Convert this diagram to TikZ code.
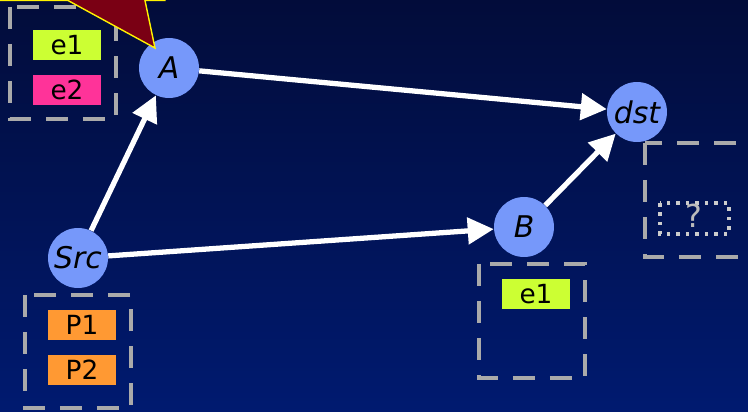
\documentclass[tikz,border=0pt]{standalone}
\usepackage{fontspec}
\setmainfont{DejaVu Sans}
\usepackage{tikz}
\usetikzlibrary{arrows.meta}

\definecolor{bgtop}{RGB}{2,12,58}
\definecolor{bgbot}{RGB}{0,26,112}
\definecolor{router}{RGB}{118,152,250}
\definecolor{lime}{RGB}{204,255,51}
\definecolor{pink}{RGB}{255,51,153}
\definecolor{orng}{RGB}{255,153,51}
\definecolor{dashgray}{RGB}{170,170,170}
\definecolor{starred}{RGB}{122,0,20}

\begin{document}
\begin{tikzpicture}[x=0.02cm,y=-0.02cm,
  router/.style={circle,fill=router,minimum size=1.2cm,inner sep=0pt,font=\fontsize{17}{17}\selectfont\itshape},
  tag/.style={fill=#1,minimum width=1.36cm,minimum height=0.62cm,inner sep=0pt,font=\fontsize{15}{15}\selectfont},
  link/.style={draw=white,line width=3pt,-{Triangle[length=0.52cm,width=0.52cm]}},
  cache/.style={draw=dashgray,line width=2.3pt,dash pattern=on 0.44cm off 0.3cm}]
\useasboundingbox (0,0) rectangle (748,412);
\clip (0,0) rectangle (748,412);
\shade[top color=bgtop,bottom color=bgbot] (0,0) rectangle (748,412);

% routers
\node[router] (A) at (169,68) {A};
\node[router] (dst) at (637,112) {dst};
\node[router] (B) at (524,227) {B};
\node[router] (Src) at (78,258) {Src};

% links
\draw[link] (Src) -- (A); \draw[link] (A) -- (dst);
\draw[link] (Src) -- (B); \draw[link] (B) -- (dst);

% caches
\draw[cache] (10,7) rectangle (116,119);
\node[tag=lime] (eA1) at (67,45) {e1}; \node[tag=pink] (eA2) at (67,90) {e2};
\draw[cache] (25,295) rectangle (131,408);
\node[tag=orng] (p1) at (82,325) {P1}; \node[tag=orng] (p2) at (82,370) {P2};
\draw[cache] (479,264) rectangle (585,378);
\node[tag=lime] (eB1) at (536,294) {e1};
\draw[cache] (645,143) rectangle (780,257);
\draw[dashgray!60!white,line width=2pt,dash pattern=on 2pt off 3.4pt] (660,203) rectangle (729,234);
\node[text=dashgray!80!white,font=\fontsize{18}{18}\selectfont] (q) at (694,216) {?};

% star
\draw[fill=starred,draw=yellow,line width=0.8pt] (-10,-10) -- (-10,0.5) -- (68,0.5) -- (155,48) -- (145,0.5) -- (165,0.5) -- (165,-10) -- cycle;

\end{tikzpicture}
\end{document}
